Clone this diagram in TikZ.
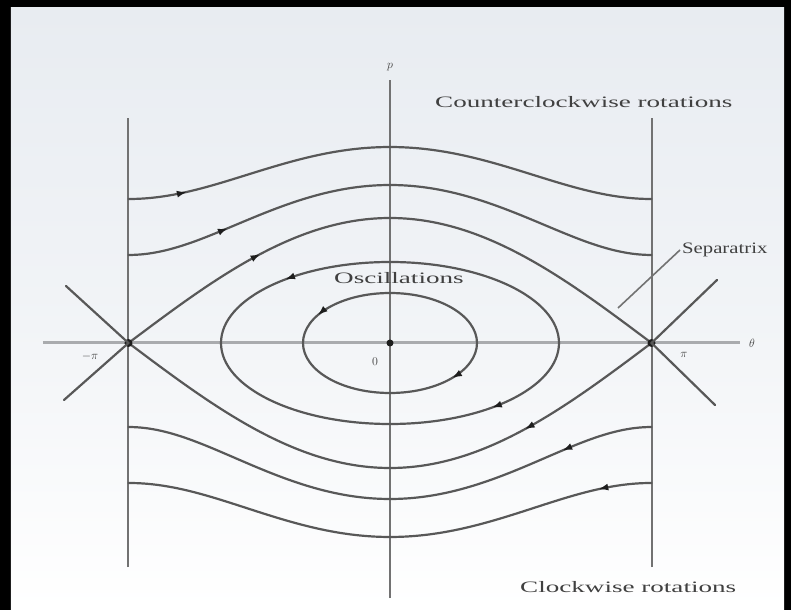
\documentclass[tikz,border=0pt]{standalone}
\usepackage{fontspec}
\setmainfont{Liberation Serif}
\usepackage{graphicx}
\usetikzlibrary{arrows.meta,decorations.markings}
\definecolor{ink}{HTML}{1E1E1E}
\definecolor{curve}{HTML}{585858}
\definecolor{rule}{HTML}{727272}
\definecolor{axisgray}{HTML}{A9ABAE}
\definecolor{paper}{HTML}{E8ECF1}
\newcommand{\widetxt}[1]{\scalebox{1.7}[1]{#1}}
\tikzset{
  flowtip/.tip={Latex[length=10bp,width=7bp]},
  orbit/.style={draw=curve, line width=2.2bp, line cap=round, line join=round},
  bound/.style={draw=rule, line width=2bp},
  axisline/.style={draw=axisgray, line width=3bp},
  paxis/.style={draw=rule, line width=1.8bp},
  fixpt/.style={circle, fill=ink, inner sep=0pt, minimum size=8bp},
  lbl/.style={text=ink!85, font=\fontsize{16}{16}\selectfont, inner sep=2bp},
  ticklbl/.style={text=ink!85, font=\fontsize{13}{13}\selectfont, inner sep=1bp},
  flowat/.style={postaction={decorate, decoration={markings,
      mark=at position #1 with {\arrow[ink]{flowtip}}}}},
  flowback/.style={postaction={decorate, decoration={markings,
      mark=at position #1 with {\arrowreversed[ink]{flowtip}}}}}
}

\begin{document}
\begin{tikzpicture}[x=1bp,y=1bp]
  % frame and paper
  \useasboundingbox (-390,-267) rectangle (401,343);
  \fill[black] (-390,-267) rectangle (401,343);
  \shade[top color=paper, bottom color=white, middle color=paper!60]
    (-379,-267) rectangle (394,335);

  % axes and the lines at -pi, pi
  \coordinate (xl) at (-347,0);
  \coordinate (xr) at (350,0);
  \coordinate (yb) at (0,-255);
  \coordinate (yt) at (0,263);
  \draw[axisline] (xl) -- (xr);
  \draw[paxis] (yb) -- (yt);
  \draw[bound] (-261.5,-224) -- (-261.5,225);
  \draw[bound] (261.5,-224) -- (261.5,225);

  % oscillations
  \draw[orbit, flowat=0.426, flowback=0.897] (0,0) ellipse [x radius=87, y radius=50];
  \draw[orbit, flowat=0.382, flowback=0.878] (0,0) ellipse [x radius=169, y radius=81];

  % separatrix
  \draw[orbit, flowat=0.27] plot[domain=-261.5:261.5, samples=131]
    (\x,{125*cos(0.34417*\x)});
  \draw[orbit, flowback=0.74] plot[domain=-261.5:261.5, samples=131]
    (\x,{-125*cos(0.34417*\x)});

  % rotations
  \draw[orbit, flowat=0.11] plot[domain=-261.5:261.5, samples=131]
    (\x,{100*exp(0.5*ln(2.9576+0.8840*cos(0.68834*\x)))});
  \draw[orbit, flowat=0.19] plot[domain=-261.5:261.5, samples=131]
    (\x,{100*exp(0.5*ln(1.6354+0.8610*cos(0.68834*\x)))});
  \draw[orbit, flowback=0.83] plot[domain=-261.5:261.5, samples=131]
    (\x,{-100*exp(0.5*ln(1.5696+0.8640*cos(0.68834*\x)))});
  \draw[orbit, flowback=0.90] plot[domain=-261.5:261.5, samples=131]
    (\x,{-100*exp(0.5*ln(2.8618+0.9018*cos(0.68834*\x)))});

  % fixed points
  \node[fixpt] (lp) at (-261.5,0) {};
  \node[fixpt] (rp) at (261.5,0) {};
  \node[fixpt, minimum size=7bp] (org) at (0,0) {};
  \coordinate (lpu) at (-324,57);
  \coordinate (lpd) at (-326,-57);
  \coordinate (rpu) at (327,63);
  \coordinate (rpd) at (325,-62);
  \draw[orbit] (lp.center) -- (lpu);
  \draw[orbit] (lp.center) -- (lpd);
  \draw[orbit] (rp.center) -- (rpu);
  \draw[orbit] (rp.center) -- (rpd);

  % labels
  \node[ticklbl] (plbl) at (0,276) {$p$};
  \node[ticklbl] (thlbl) at (362,0) {$\theta$};
  \node[ticklbl] (zero) at (-15,-19) {$0$};
  \node[ticklbl] (mpi) at (-300,-14) {$-\pi$};
  \node[ticklbl] (ppi) at (294,-12) {$\pi$};
  \node[lbl, anchor=west] (ccw) at (43,241) {\widetxt{Counterclockwise rotations}};
  \node[lbl, anchor=west] (cw) at (128,-244) {\widetxt{Clockwise rotations}};
  \node[lbl, anchor=west] (osc) at (-58,65) {\widetxt{Oscillations}};
  \node[lbl, anchor=west] (sep) at (290,93) {\scalebox{1.3}[1]{Separatrix}};
  \coordinate (sepfoot) at (228,35);
  \draw[rule, line width=1.6bp] (sepfoot) -- (sep.west);
\end{tikzpicture}
\end{document}
